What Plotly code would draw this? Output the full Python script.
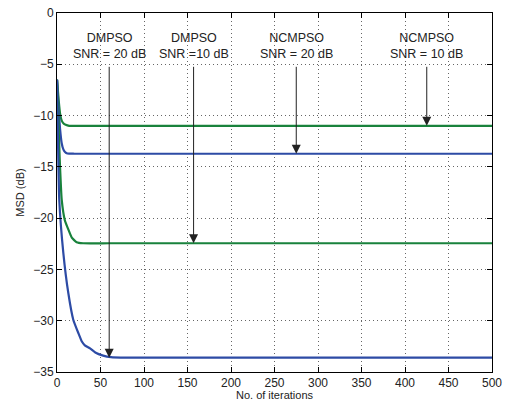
import plotly.graph_objects as go

# ---- data ----
iters_dm20 = [0, 2.6, 7.3, 13, 18.7, 24.5, 28.4, 32, 38, 44, 53, 62, 80, 500]
msd_dm20 = [-6.5, -18.2, -23.4, -27.3, -29.9, -31.2, -32.0, -32.4, -32.7, -33.1, -33.4, -33.55, -33.6, -33.6]

iters_dm10 = [0, 3, 5.4, 9, 13, 17, 22.6, 30, 60, 500]
msd_dm10 = [-6.5, -14.0, -18.2, -20.2, -21.1, -21.9, -22.35, -22.45, -22.45, -22.45]

iters_nc20 = [0, 2, 3.5, 5.4, 7.3, 9.2, 12, 20, 500]
msd_nc20 = [-6.5, -9.5, -11.3, -12.7, -13.3, -13.55, -13.7, -13.72, -13.72]

iters_nc10 = [0, 2, 3.5, 5.4, 7.3, 10, 14, 30, 500]
msd_nc10 = [-6.5, -8.6, -9.8, -10.5, -10.75, -10.9, -11.0, -11.0, -11.0]

x_ticks = [0, 50, 100, 150, 200, 250, 300, 350, 400, 450, 500]
y_ticks = [0, -5, -10, -15, -20, -25, -30, -35]

labels = ["DMPSO<br>SNR = 20 dB", "DMPSO<br>SNR =10 dB", "NCMPSO<br>SNR = 20 dB", "NCMPSO<br>SNR = 10 dB"]
label_x = [60, 157, 275, 425]
arrow_tip_y = [-33.6, -22.45, -13.72, -11.0]
arrow_tail_y = -5.1
label_y = -3.2

blue = "rgb(45,75,165)"
green = "rgb(25,130,60)"
font_family = "Liberation Sans, Arial"

fig = go.Figure()
for xs, ys, c in [(iters_nc10, msd_nc10, green), (iters_nc20, msd_nc20, blue),
                  (iters_dm10, msd_dm10, green), (iters_dm20, msd_dm20, blue)]:
    fig.add_trace(go.Scatter(x=xs, y=ys, mode="lines", line=dict(color=c, width=2.2),
                             showlegend=False, line_shape="spline", line_smoothing=0.4))

for lx, ty, txt in zip(label_x, arrow_tip_y, labels):
    fig.add_annotation(x=lx, y=ty, ax=lx, ay=arrow_tail_y, xref="x", yref="y",
                       axref="x", ayref="y", text="", showarrow=True,
                       arrowhead=2, arrowsize=1.8, arrowwidth=1, arrowcolor="#222")
    fig.add_annotation(x=lx, y=label_y, xref="x", yref="y", text=txt, showarrow=False,
                       font=dict(size=12.5, color="#222", family=font_family))

axis_common = dict(showline=True, linecolor="black", linewidth=1, mirror="ticks",
                   ticks="inside", ticklen=5, tickcolor="black", showgrid=True,
                   gridcolor="#666", griddash="1px,3px", gridwidth=1, zeroline=False,
                   automargin=False,
                   tickfont=dict(size=12, color="#222", family=font_family))

fig.update_xaxes(range=[0, 500], tickvals=x_ticks,
                 title=dict(text="No. of iterations", standoff=2,
                            font=dict(size=11, color="#222", family=font_family)),
                 **axis_common)
fig.update_yaxes(range=[-35, 0], tickvals=y_ticks,
                 title=dict(text="MSD (dB)", standoff=6,
                            font=dict(size=11, color="#222", family=font_family)),
                 **axis_common)

fig.update_layout(width=507, height=401, margin=dict(l=57, r=15, t=13, b=29),
                  plot_bgcolor="white", paper_bgcolor="white")

fig.write_html("out.html")
